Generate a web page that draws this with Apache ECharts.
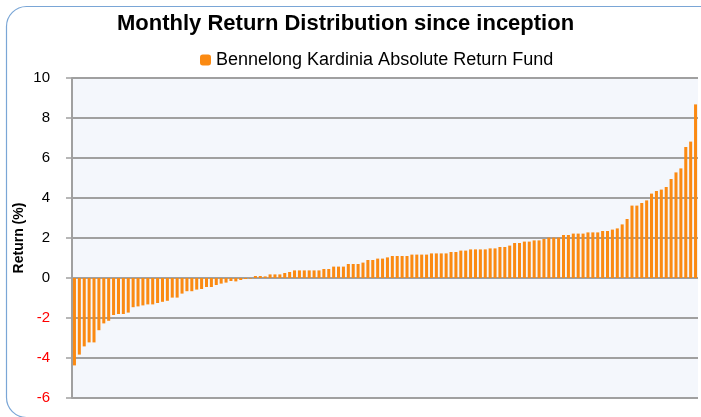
<!DOCTYPE html>
<html>
<head>
<meta charset="utf-8">
<script src="https://cdn.jsdelivr.net/npm/echarts@6/dist/echarts.min.js"></script>
<style>
  html, body { margin: 0; padding: 0; background: #fff; }
  #chart { width: 701px; height: 417px; }
</style>
</head>
<body>
<div id="chart"></div>
<script>
// monthly returns (%), sorted low to high
var returns = [
  -4.37, -3.83, -3.42, -3.22, -3.22, -2.61, -2.27, -2.14, -1.85, -1.80,
  -1.80, -1.73, -1.46, -1.42, -1.37, -1.32, -1.32, -1.25, -1.19, -1.14,
  -0.98, -0.98, -0.78, -0.66, -0.66, -0.58, -0.55, -0.45, -0.45, -0.35,
  -0.28, -0.23, -0.15, -0.17, -0.10, -0.05, -0.03, 0.10, 0.10, 0.08,
  0.18, 0.18, 0.18, 0.25, 0.30, 0.38, 0.38, 0.38, 0.38, 0.38,
  0.38, 0.45, 0.45, 0.57, 0.57, 0.57, 0.70, 0.70, 0.70, 0.77,
  0.90, 0.90, 0.97, 0.97, 1.03, 1.10, 1.10, 1.10, 1.10, 1.17,
  1.17, 1.17, 1.17, 1.23, 1.23, 1.23, 1.23, 1.30, 1.30, 1.37,
  1.37, 1.43, 1.43, 1.43, 1.43, 1.48, 1.48, 1.55, 1.55, 1.62,
  1.75, 1.75, 1.82, 1.82, 1.88, 1.88, 1.95, 2.02, 2.02, 2.02,
  2.15, 2.15, 2.22, 2.22, 2.22, 2.28, 2.28, 2.28, 2.35, 2.35,
  2.42, 2.48, 2.68, 2.95, 3.62, 3.62, 3.75, 3.88, 4.22, 4.35,
  4.42, 4.55, 4.95, 5.28, 5.48, 6.55, 6.82, 8.68
];
var months = returns.map(function (v, i) { return i + 1 });
var seriesName = 'Bennelong Kardinia Absolute Return Fund';
var yTicks = { min: -6, max: 10, step: 2 };

var chart = echarts.init(document.getElementById('chart'));
var font = '"Liberation Sans", Arial, sans-serif';

chart.setOption({
  backgroundColor: '#fff',
  textStyle: { fontFamily: font },
  title: {
    text: 'Monthly Return Distribution since inception',
    left: 112,
    top: 8,
    textStyle: { fontSize: 22, fontWeight: 'bold', color: '#000', fontFamily: font }
  },
  legend: {
    data: [seriesName],
    top: 46,
    left: 195,
    itemWidth: 11,
    itemHeight: 11,
    itemGap: 6,
    textStyle: { fontSize: 18, color: '#000', fontFamily: font }
  },
  graphic: [{
    type: 'rect',
    left: 4,
    top: 4,
    shape: { width: 740, height: 411, r: 20 },
    style: { fill: 'none', stroke: '#7aa6d6', lineWidth: 1.2 },
    silent: true
  }],
  grid: {
    left: 72,
    right: 3,
    top: 78,
    bottom: 19,
    outerBoundsMode: 'none',
    show: true,
    backgroundColor: '#f4f7fc',
    borderWidth: 0
  },
  xAxis: {
    type: 'category',
    data: months,
    axisLine: { show: false },
    axisTick: { show: false },
    axisLabel: { show: false }
  },
  yAxis: {
    type: 'value',
    min: yTicks.min,
    max: yTicks.max,
    interval: yTicks.step,
    name: 'Return (%)',
    nameLocation: 'middle',
    nameRotate: 90,
    nameGap: 46,
    nameMoveOverlap: false,
    nameTextStyle: { fontSize: 14, fontWeight: 'bold', color: '#000' },
    axisLine: { show: true, lineStyle: { color: '#a0a0a0', width: 2 } },
    axisTick: { show: true, length: 6, lineStyle: { color: '#a0a0a0', width: 1.5 } },
    axisLabel: {
      fontSize: 15,
      margin: 22,
      color: function (v) { return v < 0 ? '#ff0000' : '#000' }
    },
    splitLine: { show: true, lineStyle: { color: '#a0a0a0', width: 2 } }
  },
  series: [{
    name: seriesName,
    type: 'bar',
    data: returns,
    barCategoryGap: '38%',
    itemStyle: { color: '#fb8a12' }
  }]
});
</script>
</body>
</html>
